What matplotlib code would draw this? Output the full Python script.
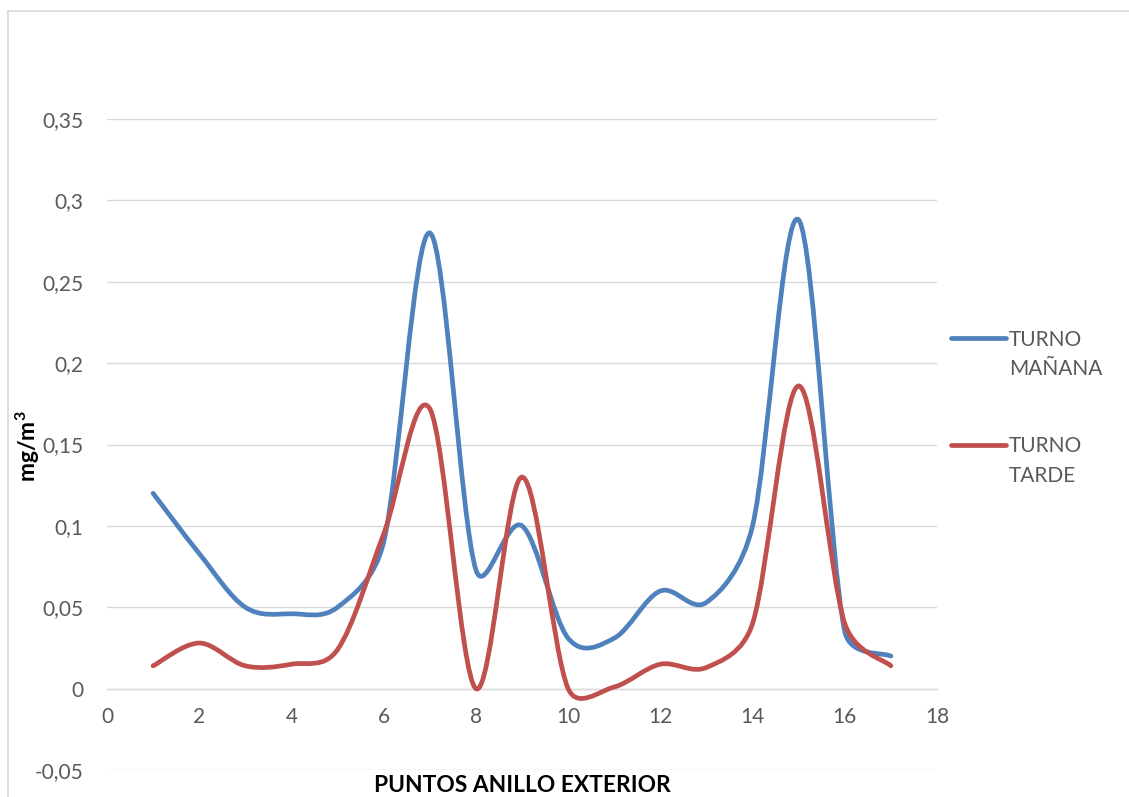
import numpy as np
import matplotlib.pyplot as plt
from matplotlib.path import Path
from matplotlib.patches import PathPatch
from matplotlib.lines import Line2D

plt.rcParams['font.family'] = ['Lato', 'DejaVu Sans']
plt.rcParams['mathtext.fontset'] = 'custom'
plt.rcParams['mathtext.rm'] = 'Lato'
plt.rcParams['mathtext.bf'] = 'Lato:bold'

# concentraciones por punto del anillo exterior (mg/m3)
puntos = list(range(1, 18))
turno_manana = [0.12, 0.083, 0.05, 0.046, 0.05, 0.09, 0.28, 0.073, 0.1,
                0.031, 0.031, 0.06, 0.053, 0.1, 0.288, 0.035, 0.02]
turno_tarde = [0.014, 0.028, 0.014, 0.015, 0.024, 0.095, 0.172, 0.0, 0.13,
               0.0, 0.001, 0.015, 0.013, 0.04, 0.186, 0.04, 0.014]

series_labels = ['TURNO MAÑANA', 'TURNO TARDE']
series_colors = ['#4F81BD', '#C0504D']

x_ticks = [0, 2, 4, 6, 8, 10, 12, 14, 16, 18]
y_ticks = [-0.05, 0, 0.05, 0.1, 0.15, 0.2, 0.25, 0.3, 0.35]
y_ticklabels = ['-0,05', '0', '0,05', '0,1', '0,15', '0,2', '0,25', '0,3', '0,35']

W, H = 1129, 797
GRID = '#D9D9D9'
TXT = '#595959'

# plot area in pixels
AX_L, AX_R, AX_T, AX_B = 107, 937, 119, 770
XMIN, XMAX, YMIN, YMAX = 0, 18, -0.05, 0.35
SX = (AX_R - AX_L) / (XMAX - XMIN)
SY = (AX_B - AX_T) / (YMAX - YMIN)


def smooth_path(xs, ys, lim=0.5):
    # bezier segments with catmull-rom tangents, worked out in screen units;
    # handle length capped to a share of the segment so short legs don't overshoot
    p = np.column_stack([np.asarray(xs) * SX, np.asarray(ys) * SY]).astype(float)
    n = len(p)
    tang = []
    for i in range(n):
        a = p[i - 1] if i > 0 else p[i]
        b = p[i + 1] if i + 1 < n else p[i]
        tang.append((b - a) / 6.0)
    verts = [p[0]]
    codes = [Path.MOVETO]
    for i in range(n - 1):
        seg = np.hypot(*(p[i + 1] - p[i]))
        t1, t2 = tang[i], tang[i + 1]
        n1, n2 = np.hypot(*t1), np.hypot(*t2)
        if n1 > lim * seg:
            t1 = t1 * lim * seg / n1
        if n2 > lim * seg:
            t2 = t2 * lim * seg / n2
        verts += [p[i] + t1, p[i + 1] - t2, p[i + 1]]
        codes += [Path.CURVE4] * 3
    verts = np.array(verts) / [SX, SY]
    return Path(verts, codes)


def fx(px):
    return px / W


def fy(py):
    return 1 - py / H


fig = plt.figure(figsize=(W / 100, H / 100), dpi=100)
ax = fig.add_axes([fx(AX_L), fy(AX_B), fx(AX_R) - fx(AX_L), fy(AX_T) - fy(AX_B)])
ax.set_xlim(XMIN, XMAX)
ax.set_ylim(YMIN, YMAX)

ax.set_yticks(y_ticks)
ax.set_yticklabels(y_ticklabels)
ax.set_xticks(x_ticks)

for s in ['top', 'right', 'left']:
    ax.spines[s].set_visible(False)
ax.spines['bottom'].set_position(('data', 0))
ax.spines['bottom'].set_color(GRID)
ax.spines['bottom'].set_linewidth(1.0)

ax.yaxis.grid(True, color=GRID, linewidth=1.0)
ax.set_axisbelow(True)
ax.tick_params(axis='y', length=0, labelsize=15, labelcolor=TXT, pad=17)
ax.tick_params(axis='x', length=0, labelsize=15, labelcolor=TXT, pad=13)

for vals, col in zip([turno_manana, turno_tarde], series_colors):
    patch = PathPatch(smooth_path(puntos, vals), facecolor='none', edgecolor=col,
                      linewidth=3.4, capstyle='round', joinstyle='round', zorder=3)
    ax.add_patch(patch)

fig.text(fx(522), fy(786), 'PUNTOS ANILLO EXTERIOR', ha='center', va='center',
         fontsize=16.4, fontweight='bold', color='black')
fig.text(fx(28), fy(446), r'$\mathbf{mg/m^3}$', ha='center', va='center', rotation=90,
         fontsize=16.5, color='black')

# leyenda a la derecha
for k, (lab, col) in enumerate(zip(series_labels, series_colors)):
    yline = 338 + k * 107
    fig.add_artist(Line2D([fx(951), fx(1006)], [fy(yline), fy(yline)], color=col,
                          linewidth=3.4, solid_capstyle='round'))
    for j, word in enumerate(lab.split()):
        fig.text(fx(1009), fy(yline + 7.5 + 30 * j), word, ha='left', va='baseline',
                 fontsize=15, color=TXT)

# borde del grafico
fig.add_artist(Line2D([fx(7.5), fx(W + 5)], [fy(11), fy(11)], color=GRID, linewidth=1.2))
fig.add_artist(Line2D([fx(7.5), fx(7.5)], [fy(11), fy(H + 5)], color=GRID, linewidth=1.2))

fig.savefig('out.png', dpi=100)
